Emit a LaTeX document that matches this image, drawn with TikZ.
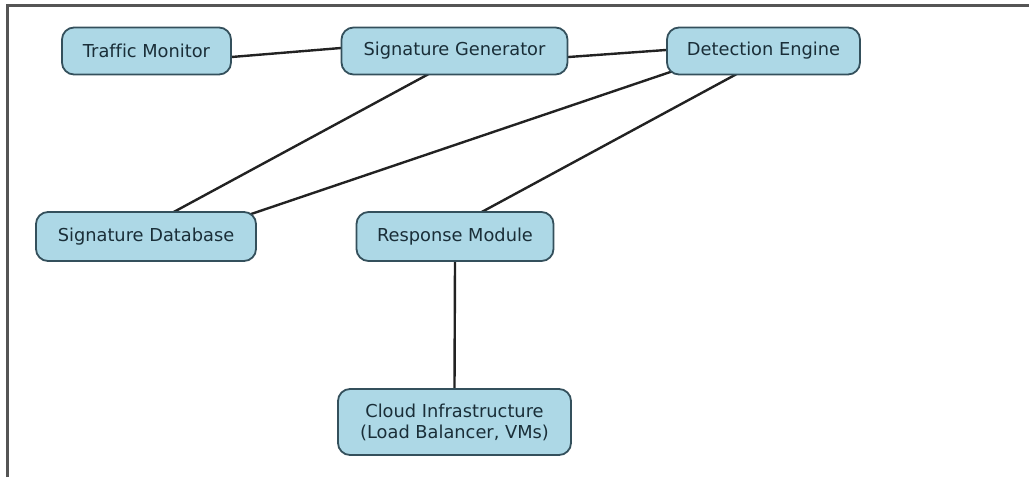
\documentclass[tikz,border=0pt]{standalone}
\usepackage{fontspec}
\setmainfont{DejaVu Sans}[Ligatures=NoCommon]
\usetikzlibrary{calc,backgrounds}
\definecolor{boxfill}{HTML}{ADD8E6}
\definecolor{boxedge}{HTML}{34505C}
\definecolor{boxtext}{HTML}{1A2E38}
\definecolor{linkcol}{HTML}{222222}
\definecolor{framecol}{HTML}{555555}
\tikzset{
  module/.style={draw=boxedge, line width=1.8pt, fill=boxfill, rounded corners=12pt,
    text=boxtext, font=\fontsize{17.8}{21}\selectfont, align=center,
    inner sep=0pt, minimum height=47pt},
  link/.style={draw=linkcol, line width=2.4pt},
  frame/.style={draw=framecol, line width=2.2pt}
}
\begin{document}
\begin{tikzpicture}[x=1pt,y=-1pt]
\useasboundingbox (0,0) rectangle (1029,477);
% page frame (top and left rules)
\coordinate (fa) at (7.5,477);
\coordinate (fb) at (7.5,5.5);
\coordinate (fc) at (1029,5.5);
\draw[frame] (fa) -- (fb) -- (fc);

% modules
\node[module, minimum width=169pt] (tm) at (146.5,51) {Traffic Monitor};
\node[module, minimum width=226pt] (sg) at (454.5,51) {Signature Generator};
\node[module, minimum width=193pt] (de) at (763.5,51) {Detection Engine};
\node[module, minimum width=220pt, minimum height=49pt] (sdb) at (146,236.5) {Signature Database};
\node[module, minimum width=197pt, minimum height=49pt] (rm) at (455,236.5) {Response Module};
\node[module, minimum width=233pt, minimum height=66pt] (cloud) at (454.5,422) {Cloud Infrastructure\\(Load Balancer, VMs)};

% connections, behind the boxes
\begin{scope}[on background layer]
\draw[link] ($(tm.east)+(-4,6.3)$) -- ($(sg.west)+(4,-3.3)$);
\draw[link] ($(sg.east)+(-4,6.3)$) -- ($(de.west)+(4,-1.3)$);
\draw[link] ($(sg.south)+(-21,-4)$) -- ($(sdb.north)+(22,4)$);
\draw[link] ($(de.south west)+(6,-4)$) -- ($(sdb.north east)+(-9,4)$);
\draw[link] ($(de.south)+(-22,-4)$) -- ($(rm.north)+(21,4)$);
\draw[link] (rm.south) -- (cloud.north);
\end{scope}
\end{tikzpicture}
\end{document}
